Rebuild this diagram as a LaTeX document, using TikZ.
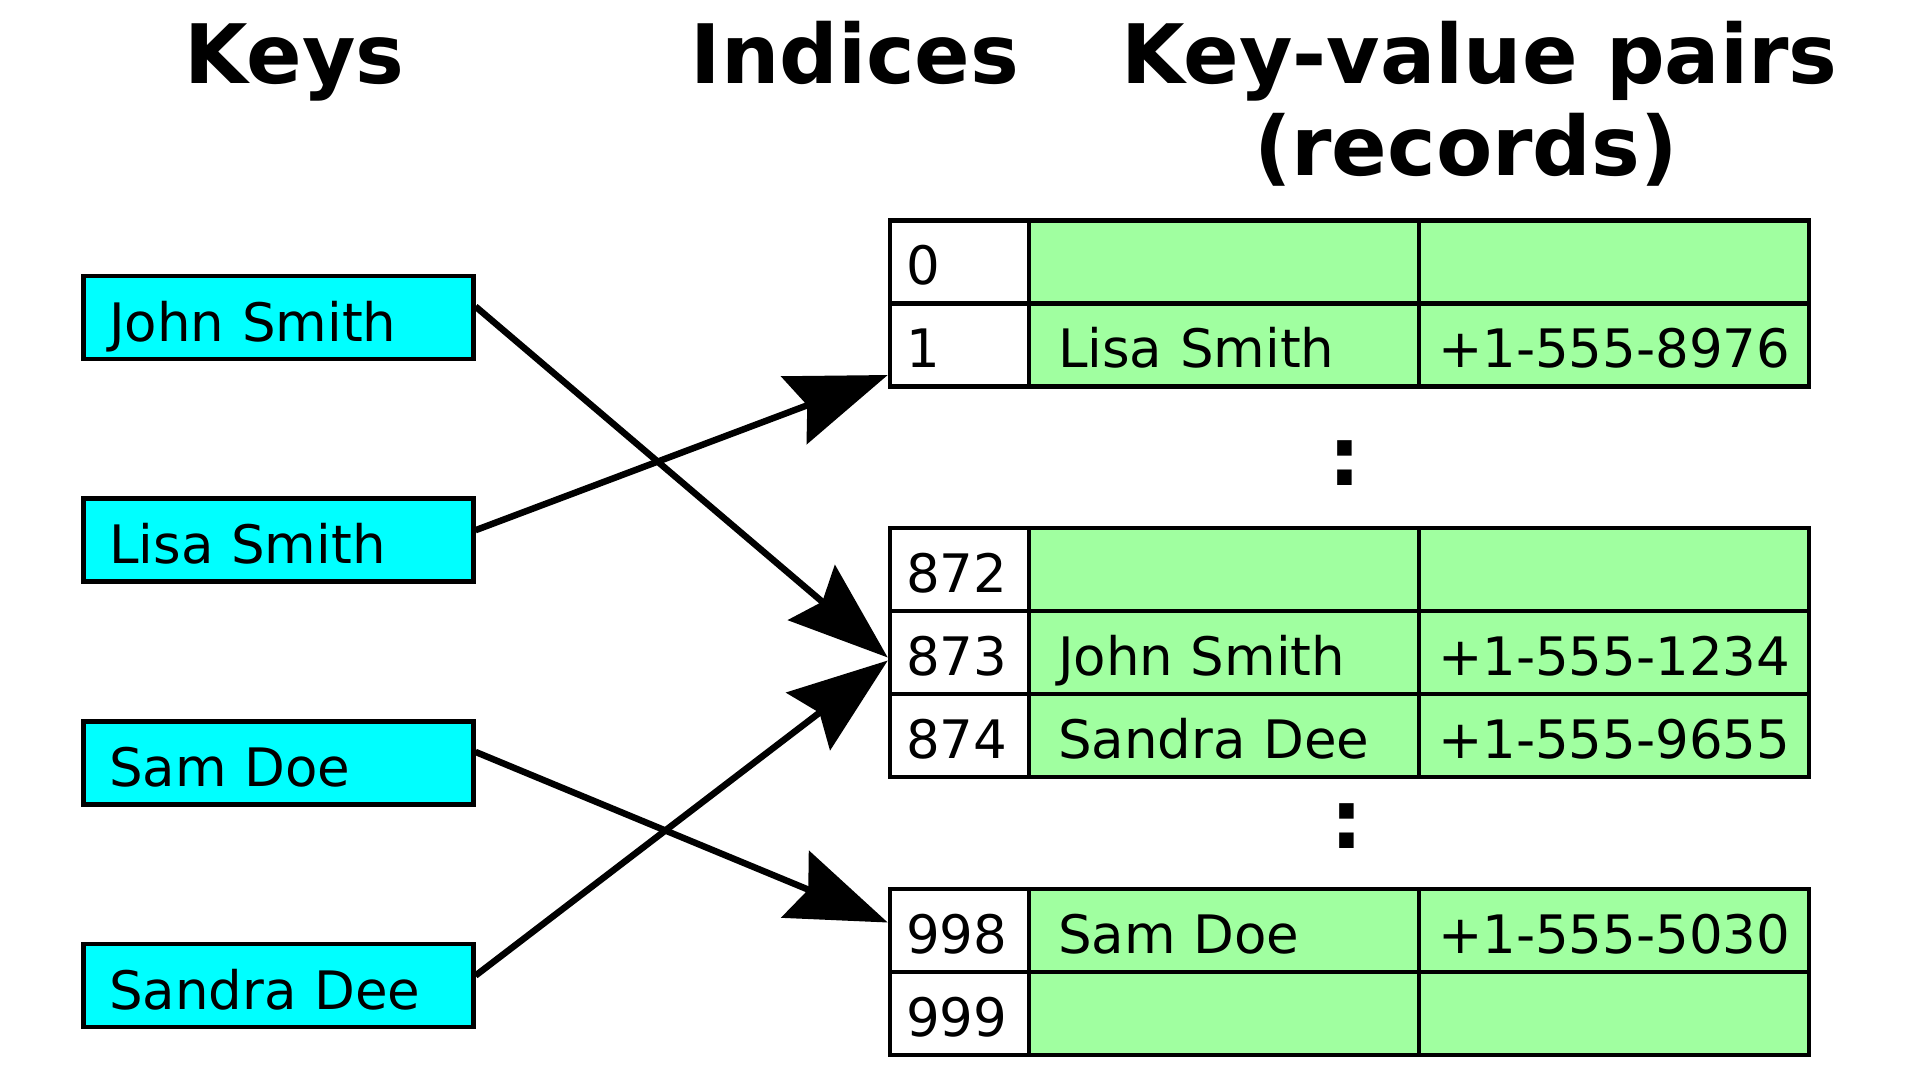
\documentclass[tikz,border=0pt]{standalone}
\usepackage{fontspec}
\setmainfont{DejaVu Sans}
\usetikzlibrary{positioning, arrows.meta}
\definecolor{keycyan}{RGB}{0,255,255}
\definecolor{recgreen}{RGB}{160,255,160}
\exhyphenpenalty=10000

\begin{document}
\begin{tikzpicture}[x=1pt,y=-1pt,on grid,
  every node/.style={inner sep=0pt},
  title/.style={font=\fontsize{82}{92}\selectfont\bfseries, anchor=base},
  keybox/.style={draw, line width=4.5pt, fill=keycyan, align=left, text width=338pt, inner xsep=26pt,
    text height=65pt, text depth=18pt, font=\fontsize{53}{60}\selectfont},
  cell/.style={draw, line width=4.5pt, align=left, text height=64pt, text depth=19pt,
    font=\fontsize{53}{60}\selectfont},
  idx/.style={cell, fill=white, text width=107pt, inner xsep=16pt},
  rec/.style={cell, fill=recgreen, text width=332pt, inner xsep=29pt},
  tel/.style={cell, fill=recgreen, text width=352pt, inner xsep=19pt},
  link/.style={line width=6.5pt, -{Stealth[length=100pt,width=72pt,inset=14pt]}}]
  \useasboundingbox (0,0) rectangle (1920,1080);

  \node[title] (tkeys) at (294.5,83) {Keys};
  \node[title] (tidx)  at (855,83) {Indices};
  \node[title] (tkv)   at (1479.5,83) {Key-value pairs};
  \node[title] (trec)  at (1466,175) {(records)};

  % keys
  \node[keybox] (john) at (278.25,317.5) {John Smith};
  \node[keybox] (lisa) [below=222.7pt of john] {Lisa Smith};
  \node[keybox] (sam) [below=222.7pt of lisa] {Sam Doe};
  \node[keybox] (sandra) [below=222.7pt of sam] {Sandra Dee};

  % buckets
  \node[idx] (r0) at (959.5,262) {0};
  \node[rec] (n0) [right=264.5pt of r0] {};
  \node[tel] (t0) [right=390pt of n0] {};
  \node[idx] (r1) [below=83pt of r0] {1};
  \node[rec] (n1) [right=264.5pt of r1] {Lisa Smith};
  \node[tel] (t1) [right=390pt of n1] {+1-555-8976};

  \node[title] (dots1) at (1345,485) {:};

  \node[idx] (r872) at (959.5,569.5) {872};
  \node[rec] (n872) [right=264.5pt of r872] {};
  \node[tel] (t872) [right=390pt of n872] {};
  \node[idx] (r873) [below=83pt of r872] {873};
  \node[rec] (n873) [right=264.5pt of r873] {John Smith};
  \node[tel] (t873) [right=390pt of n873] {+1-555-1234};
  \node[idx] (r874) [below=83pt of r873] {874};
  \node[rec] (n874) [right=264.5pt of r874] {Sandra Dee};
  \node[tel] (t874) [right=390pt of n874] {+1-555-9655};

  \node[title] (dots2) at (1347,848) {:};

  \node[idx] (r998) at (959.5,930.5) {998};
  \node[rec] (n998) [right=264.5pt of r998] {Sam Doe};
  \node[tel] (t998) [right=390pt of n998] {+1-555-5030};
  \node[idx] (r999) [below=83pt of r998] {999};
  \node[rec] (n999) [right=264.5pt of r999] {};
  \node[tel] (t999) [right=390pt of n999] {};

  \draw[link] ([yshift=11pt]john.east) -- ([yshift=-5pt]r873.west);
  \draw[link] ([yshift=10pt]lisa.east) -- ([yshift=-30pt]r1.west);
  \draw[link] ([yshift=11pt]sam.east) -- ([yshift=8pt]r998.west);
  \draw[link] ([yshift=10pt]sandra.east) -- ([yshift=-8pt]r873.west);
\end{tikzpicture}
\end{document}
